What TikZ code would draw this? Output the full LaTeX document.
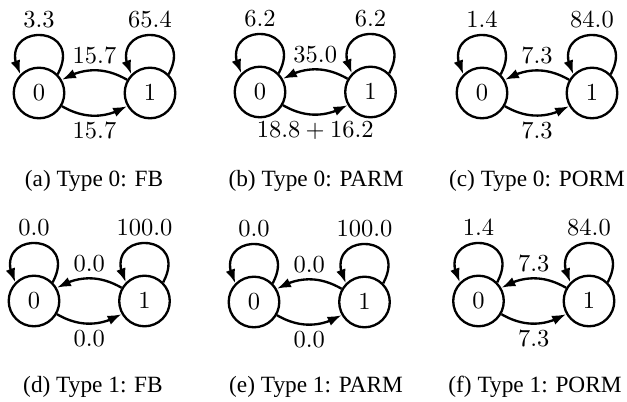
\documentclass[tikz,border=0pt]{standalone}
\usepackage{fix-cm}
\usepackage[no-math]{fontspec}
\setmainfont{Liberation Serif}
\usetikzlibrary{arrows.meta,bending}

\newcommand\numfont{\fontsize{10.5}{12}\selectfont}

\tikzset{
  state/.style={circle, draw, line width=1pt, minimum size=21.7pt,
    inner sep=0pt, font=\numfont},
  trans/.style={line width=1pt, -{Latex[length=6pt,width=4.2pt,flex]}},
  rate/.style={font=\numfont, inner sep=2.5pt},
  subcap/.style={anchor=base, font=\fontsize{10}{12}\selectfont},
}

% self-loop drawn over the top of a state, counter-clockwise
\newcommand\selfloop[2]{%
  \draw[trans] (#1.45) .. controls +(62:25.5pt) and +(118:25.5pt) ..
    node[rate, above] {$#2$} (#1.135);
}

% two-state chain: prefix, x of state 0, y, x of state 1,
% self-rate 0, self-rate 1, rate 1->0, rate 0->1
\newcommand\chainpair[8]{%
  \node[state] (#1z) at (#2,#3) {$0$};
  \node[state] (#1o) at (#4,#3) {$1$};
  \selfloop{#1z}{#5}
  \selfloop{#1o}{#6}
  \draw[trans] (#1o) to[bend right=30] node[rate, above] {$#7$} (#1z);
  \draw[trans] (#1z) to[bend right=30] node[rate, below] {$#8$} (#1o);
}

\begin{document}
\begin{tikzpicture}[x=0.429pt, y=-0.429pt]
  \useasboundingbox (0,0) rectangle (627,402);

  % type 0
  \chainpair{a}{39}{93}{150}{3.3}{65.4}{15.7}{15.7}
  \chainpair{b}{260}{92}{370.5}{6.2}{6.2}{35.0}{18.8+16.2}
  \chainpair{c}{482}{93}{592}{1.4}{84.0}{7.3}{7.3}
  \node[subcap] (capa) at (94,187) {(a) Type 0: FB};
  \node[subcap] (capb) at (316,187) {(b) Type 0: PARM};
  \node[subcap] (capc) at (537,187) {(c) Type 0: PORM};

  % type 1
  \chainpair{d}{34}{301}{144.5}{0.0}{100.0}{0.0}{0.0}
  \chainpair{e}{254}{302}{364.5}{0.0}{100.0}{0.0}{0.0}
  \chainpair{f}{478.5}{301}{589}{1.4}{84.0}{7.3}{7.3}
  \node[subcap] (capd) at (93,393) {(d) Type 1: FB};
  \node[subcap] (cape) at (316,393) {(e) Type 1: PARM};
  \node[subcap] (capf) at (535,393) {(f) Type 1: PORM};
\end{tikzpicture}
\end{document}
